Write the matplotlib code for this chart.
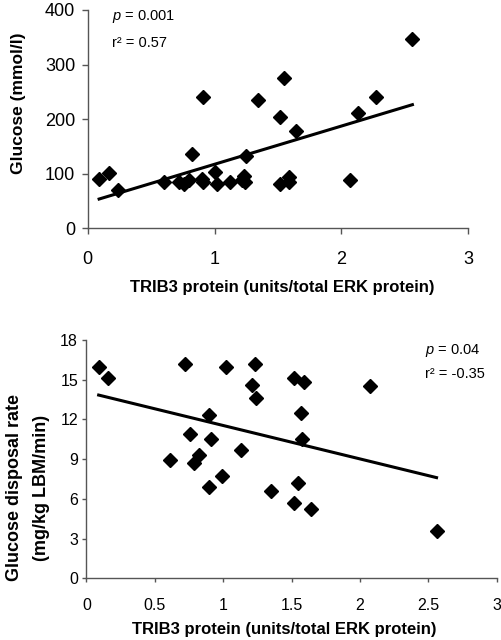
#! /usr/bin/env python3

import numpy as np
import matplotlib
matplotlib.use("Agg")
import matplotlib.pyplot as plt

plt.rcParams['font.family'] = ['Liberation Sans', 'DejaVu Sans']
plt.rcParams['mathtext.fontset'] = 'custom'
plt.rcParams['mathtext.rm'] = 'Liberation Sans'
plt.rcParams['mathtext.it'] = 'Liberation Sans:italic'

# top panel: TRIB3 vs fasting glucose
trib3_top = [0.09, 0.17, 0.24, 0.60, 0.72, 0.76, 0.80, 0.82, 0.90, 0.91, 0.91,
             1.00, 1.02, 1.12, 1.22, 1.23, 1.24, 1.25, 1.34, 1.52, 1.52, 1.55,
             1.59, 1.59, 1.64, 2.07, 2.13, 2.27, 2.56]
glucose = [90, 102, 71, 85, 85, 82, 88, 137, 90, 85, 241,
           103, 82, 85, 88, 96, 84, 133, 235, 204, 82, 275,
           94, 85, 179, 88, 211, 241, 346]
fit_top = [70.0, 47.3]  # slope, intercept

# bottom panel: TRIB3 vs glucose disposal rate
trib3_bot = [0.09, 0.16, 0.72, 1.02, 1.23, 1.21, 1.24, 0.90, 0.76, 0.91, 0.61,
             0.82, 0.79, 1.13, 0.99, 0.90, 1.35, 1.52, 1.59, 1.57, 1.58, 1.55,
             1.52, 1.64, 2.07, 2.56]
gdr = [16.0, 15.1, 16.2, 16.0, 16.2, 14.6, 13.6, 12.3, 10.9, 10.5, 8.9,
       9.3, 8.7, 9.7, 7.7, 6.9, 6.6, 15.1, 14.8, 12.5, 10.5, 7.2,
       5.7, 5.2, 14.5, 3.6]
fit_bot = [-2.525, 14.07]

xlabel = 'TRIB3 protein (units/total ERK protein)'


def style_axes(ax, ticklen):
	for s in ['top', 'right']:
		ax.spines[s].set_visible(False)
	for s in ['left', 'bottom']:
		ax.spines[s].set_color('#555555')
		ax.spines[s].set_linewidth(1.0)
	ax.tick_params(direction='out', length=ticklen, color='#555555', width=1.0)


def draw_panel(ax, x, y, fit):
	ax.plot(x, y, 'D', color='black', markersize=7, zorder=3)
	xs = np.array([min(x), max(x)])
	ax.plot(xs, fit[0] * xs + fit[1], color='black', linewidth=2.2, zorder=2)


fig = plt.figure(figsize=(5.02, 6.40), dpi=100)

ax1 = fig.add_axes([0.1747, 0.6433, 0.758, 0.3411])
draw_panel(ax1, trib3_top, glucose, fit_top)
ax1.set_xlim(0, 3)
ax1.set_ylim(0, 400)
ax1.set_xticks([0, 1, 2, 3])
ax1.set_yticks([0, 100, 200, 300, 400])
style_axes(ax1, 4)
ax1.tick_params(axis='x', labelsize=13, pad=12)
ax1.tick_params(axis='y', labelsize=13, pad=5)
ax1.set_xlabel(xlabel, fontsize=12, fontweight='bold')
ax1.xaxis.set_label_coords(0.512, -0.235)
ax1.set_ylabel('Glucose (mmol/l)', fontsize=12.5, fontweight='bold')
ax1.yaxis.set_label_coords(-0.162, 0.574)
ax1.text(0.064, 0.969, '$\\it{p}$ = 0.001', transform=ax1.transAxes, fontsize=10.5, va='center')
ax1.text(0.064, 0.850, 'r² = 0.57', transform=ax1.transAxes, fontsize=10.5, va='center')

ax2 = fig.add_axes([0.172, 0.0964, 0.8175, 0.3723])
draw_panel(ax2, trib3_bot, gdr, fit_bot)
ax2.set_xlim(0, 3)
ax2.set_ylim(0, 18)
ax2.set_xticks([0, 0.5, 1, 1.5, 2, 2.5, 3])
ax2.set_xticklabels(['0', '0.5', '1', '1.5', '2', '2.5', '3'])
ax2.set_yticks([0, 3, 6, 9, 12, 15, 18])
style_axes(ax2, 3)
ax2.tick_params(axis='x', labelsize=11.5, pad=11)
ax2.tick_params(axis='y', labelsize=11.5, pad=3)
ax2.set_xlabel(xlabel, fontsize=12, fontweight='bold')
ax2.xaxis.set_label_coords(0.482, -0.183)
ax2.set_ylabel('Glucose disposal rate\n(mg/kg LBM/min)', fontsize=13, fontweight='bold',
	linespacing=1.75)
ax2.yaxis.set_label_coords(-0.088, 0.379)
ax2.text(0.824, 0.955, '$\\it{p}$ = 0.04', transform=ax2.transAxes, fontsize=10.5, va='center')
ax2.text(0.824, 0.856, 'r² = -0.35', transform=ax2.transAxes, fontsize=10.5, va='center')

fig.savefig('out.png', dpi=100)
